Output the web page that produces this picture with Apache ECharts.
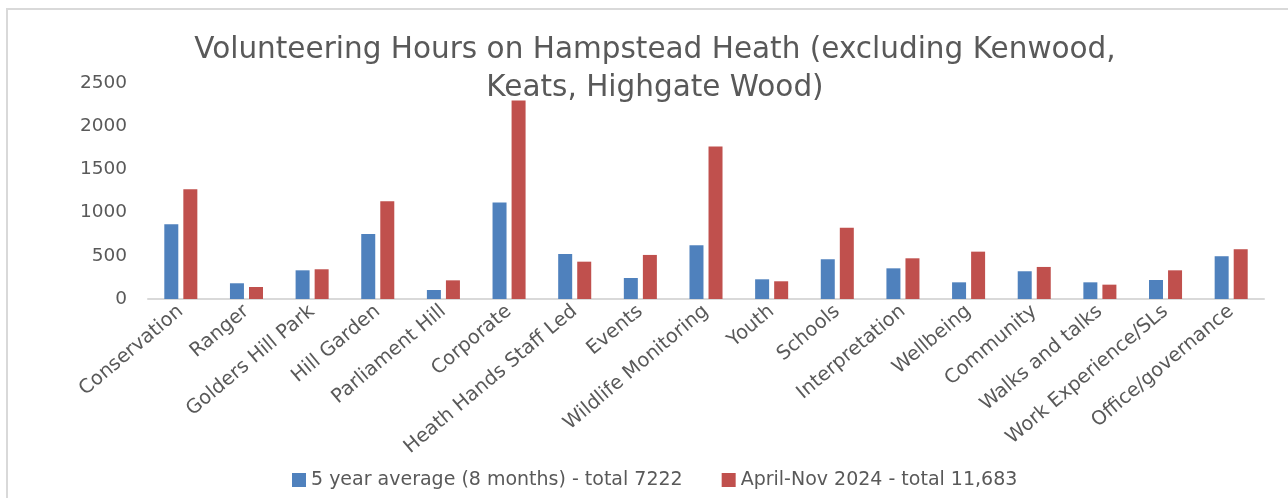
<!DOCTYPE html>
<html>
<head>
<meta charset="utf-8">
<script src="https://cdn.jsdelivr.net/npm/echarts@6/dist/echarts.min.js"></script>
<style>html,body{margin:0;padding:0;background:#fff;}#c{width:1288px;height:498px;}</style>
</head>
<body>
<div id="c"></div>
<script>
const categories = ["Conservation","Ranger","Golders Hill Park","Hill Garden","Parliament Hill","Corporate","Heath Hands Staff Led","Events","Wildlife Monitoring","Youth","Schools","Interpretation","Wellbeing","Community","Walks and talks","Work Experience/SLs","Office/governance"];
const avgSeriesName = "5 year average (8 months) - total 7222";
const avgValues = [866,182,332,753,104,1116,521,243,622,228,460,355,193,321,193,220,495];
const curSeriesName = "April-Nov 2024 - total 11,683";
const curValues = [1271,139,344,1132,216,2298,432,510,1765,205,826,471,548,371,166,332,576];
const titleText = "Volunteering Hours on Hampstead Heath (excluding Kenwood,\nKeats, Highgate Wood)";

const FONT = "DejaVu Sans";
const chart = echarts.init(document.getElementById('c'), null, {renderer:'canvas'});
chart.setOption({
  animation:false,
  backgroundColor:'#ffffff',
  graphic:[{type:'rect',shape:{x:7,y:9,width:1400,height:600},style:{fill:'none',stroke:'#d9d9d9',lineWidth:2},silent:true}],
  title:{
    text:titleText,
    left:650, top:26, textAlign:'center',
    textStyle:{fontFamily:FONT,fontSize:29.5,fontWeight:'normal',color:'#595959',lineHeight:38}
  },
  legend:{
    left:287, top:465,
    itemWidth:14, itemHeight:14, itemGap:39,
    icon:'rect',
    textStyle:{fontFamily:FONT,fontSize:19,color:'#595959',lineHeight:20},
    data:[avgSeriesName,curSeriesName]
  },
  grid:{left:148,right:24,top:83,bottom:199,containLabel:false},
  xAxis:{
    type:'category',
    data:categories,
    axisLine:{lineStyle:{color:'#d9d9d9',width:2}},
    axisTick:{show:false},
    axisLabel:{rotate:40,interval:0,margin:10,fontFamily:FONT,fontSize:19.5,color:'#595959'}
  },
  yAxis:{
    type:'value',min:0,max:2500,interval:500,
    axisLine:{show:false},axisTick:{show:false},
    splitLine:{show:false},
    axisLabel:{fontFamily:FONT,fontSize:18.5,color:'#595959',margin:21,formatter:function(v){return String(v);}}
  },
  series:[
    {name:avgSeriesName,type:'bar',data:avgValues,barWidth:14,barGap:'36%',itemStyle:{color:'#4f81bd'}},
    {name:curSeriesName,type:'bar',data:curValues,barWidth:14,barGap:'36%',itemStyle:{color:'#c0504d'}}
  ]
});
</script>
</body>
</html>
